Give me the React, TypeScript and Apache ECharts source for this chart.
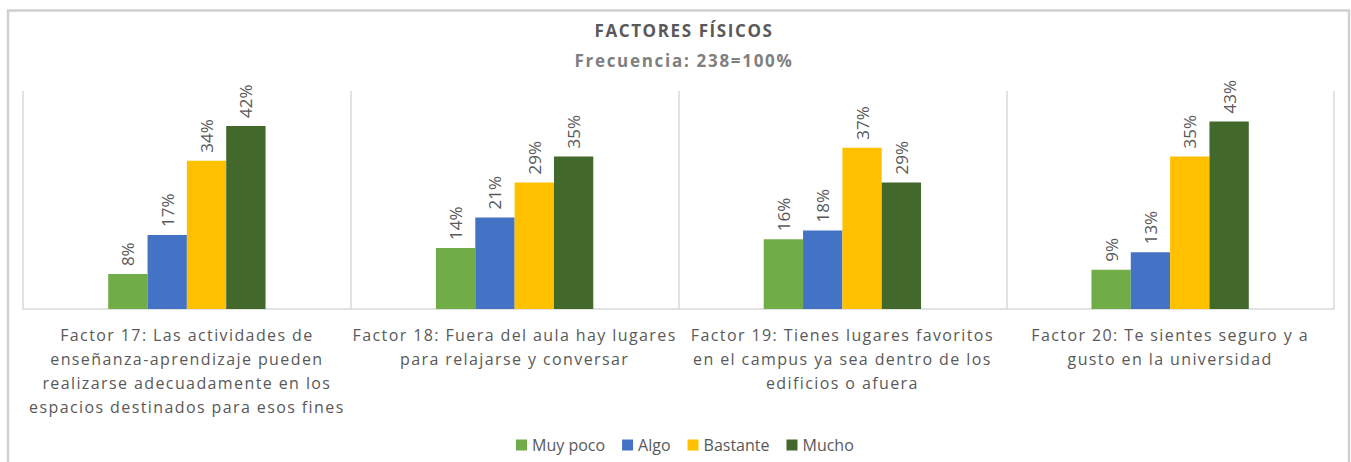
import React, { useEffect, useRef } from "react";
import * as echarts from "echarts";

const categories = [
  "Factor 17: Las actividades de\nenseñanza-aprendizaje pueden\nrealizarse adecuadamente en los\nespacios destinados para esos fines",
  "Factor 18: Fuera del aula hay lugares\npara relajarse y conversar",
  "Factor 19: Tienes lugares favoritos\nen el campus ya sea dentro de los\nedificios o afuera",
  "Factor 20: Te sientes seguro y a\ngusto en la universidad",
];
const seriesNames = ["Muy poco", "Algo", "Bastante", "Mucho"];
const muyPoco = [8, 14, 16, 9];
const algo = [17, 21, 18, 13];
const bastante = [34, 29, 37, 35];
const mucho = [42, 35, 29, 43];
const colors = ["#70AD47", "#4472C4", "#FFC000", "#43682B"];

const css = `
text[style*="zspcat"] { letter-spacing: 1.4px; }
text[style*="zsptitle"] { letter-spacing: 1.6px; }
text[style*="zspsub"] { letter-spacing: 1.7px; }
`;

export default function App() {
  const ref = useRef<HTMLDivElement>(null);
  useEffect(() => {
    if (!ref.current) return;
    const chart = echarts.init(ref.current, null, { renderer: "svg" });
    const values = [muyPoco, algo, bastante, mucho];
    chart.setOption({
      animation: false,
      title: [
        {
          text: "FACTORES FÍSICOS",
          left: 679,
          textAlign: "center",
          top: 17,
          textStyle: { fontFamily: "Open Sans, zsptitle", fontWeight: "bold", fontSize: 17, color: "#595959" },
        },
        {
          text: "Frecuencia: 238=100%",
          left: 679,
          textAlign: "center",
          top: 47,
          textStyle: { fontFamily: "Open Sans, zspsub", fontWeight: "bold", fontSize: 17, color: "#7F7F7F" },
        },
      ],
      graphic: [
        {
          type: "rect",
          shape: { x: 8, y: 10.5, width: 1341, height: 470 },
          style: { fill: "none", stroke: "#D0D0D0", lineWidth: 2.5 },
          silent: true,
        },
      ],
      legend: {
        data: seriesNames,
        left: 511,
        top: 432,
        itemWidth: 11,
        itemHeight: 11,
        itemGap: 17,
        icon: "rect",
        textStyle: { fontFamily: "Open Sans", fontSize: 16, color: "#595959" },
      },
      grid: { left: 23, right: 17, top: 91, bottom: 153, containLabel: false },
      xAxis: {
        type: "category",
        data: categories,
        axisTick: { show: false },
        axisLine: { lineStyle: { color: "#D9D9D9", width: 1.5 } },
        splitLine: { show: true, lineStyle: { color: "#D9D9D9", width: 1.5 } },
        axisLabel: {
          interval: 0,
          margin: 14,
          lineHeight: 24,
          fontSize: 16,
          fontFamily: "Open Sans, zspcat",
          color: "#595959",
        },
      },
      yAxis: {
        type: "value",
        min: 0,
        max: 50,
        show: false,
        splitLine: { show: false },
      },
      series: seriesNames.map((name, i) => ({
        name,
        type: "bar",
        data: values[i],
        barGap: "0%",
        barCategoryGap: "52%",
        itemStyle: { color: colors[i] },
        label: {
          show: true,
          position: "top",
          rotate: 90,
          align: "left",
          verticalAlign: "middle",
          distance: 8,
          formatter: "{c}%",
          fontSize: 17,
          fontFamily: "Open Sans",
          color: "#595959",
        },
      })),
    });
    return () => chart.dispose();
  }, []);
  return (
    <>
      <style>{css}</style>
      <div
        ref={ref}
        style={{ position: "absolute", left: 0, top: 0, width: 1351, height: 462 }}
      />
    </>
  );
}
